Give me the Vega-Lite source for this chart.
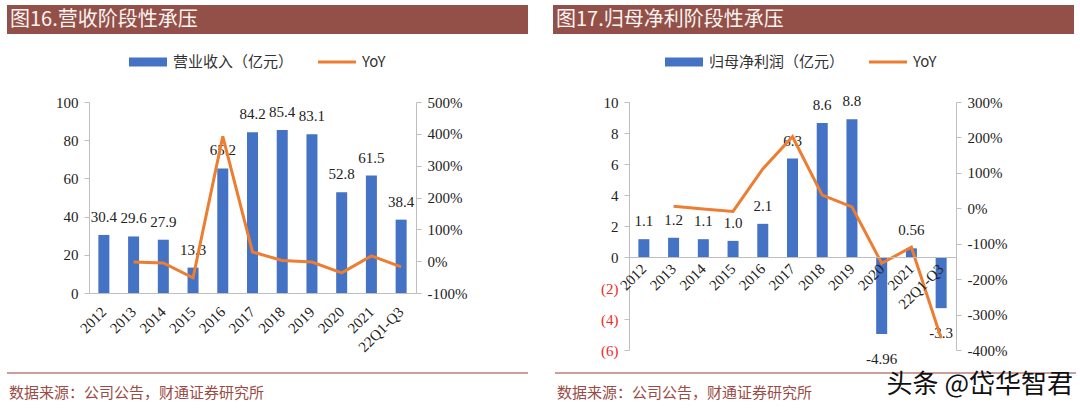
{
  "$schema": "https://vega.github.io/schema/vega-lite/v6.json",
  "padding": {"left": 6, "top": 5, "right": 0, "bottom": 0},
  "background": "white",
  "config": {"view": {"stroke": null}, "font": "Noto Sans CJK SC"},
  "datasets": {
    "rev": [
      {"year": "2012", "rev": 30.4, "yoy": null},
      {"year": "2013", "rev": 29.6, "yoy": -2.6},
      {"year": "2014", "rev": 27.9, "yoy": -5.7},
      {"year": "2015", "rev": 13.3, "yoy": -52.3},
      {"year": "2016", "rev": 65.2, "yoy": 392},
      {"year": "2017", "rev": 84.2, "yoy": 29},
      {"year": "2018", "rev": 85.4, "yoy": 2},
      {"year": "2019", "rev": 83.1, "yoy": -2.7},
      {"year": "2020", "rev": 52.8, "yoy": -36.5},
      {"year": "2021", "rev": 61.5, "yoy": 16.5},
      {"year": "22Q1-Q3", "rev": 38.4, "yoy": -18}
    ],
    "profit": [
      {"year": "2012", "profit": 1.15, "label": "1.1", "yoy": null},
      {"year": "2013", "profit": 1.24, "label": "1.2", "yoy": 6},
      {"year": "2014", "profit": 1.15, "label": "1.1", "yoy": -2},
      {"year": "2015", "profit": 1.04, "label": "1.0", "yoy": -9},
      {"year": "2016", "profit": 2.14, "label": "2.1", "yoy": 111},
      {"year": "2017", "profit": 6.35, "label": "6.3", "yoy": 202},
      {"year": "2018", "profit": 8.64, "label": "8.6", "yoy": 37},
      {"year": "2019", "profit": 8.88, "label": "8.8", "yoy": 4},
      {"year": "2020", "profit": -4.96, "label": "-4.96", "yoy": -155},
      {"year": "2021", "profit": 0.56, "label": "0.56", "yoy": -110},
      {"year": "22Q1-Q3", "profit": -3.3, "label": "-3.3", "yoy": -367}
    ]
  },
  "spacing": 5,
  "resolve": {"scale": {"color": "independent"}, "legend": {"color": "independent"}},
  "vconcat": [
    {
      "spacing": 25,
      "hconcat": [
        {
          "width": 521, "height": 29,
          "view": {"fill": "#935049", "stroke": null},
          "data": {"values": [{"t": "图16.营收阶段性承压"}]},
          "mark": {"type": "text", "align": "left", "baseline": "middle", "color": "#fbf4f1", "fontSize": 20, "dx": 3},
          "encoding": {
            "x": {"datum": 0, "type": "quantitative", "scale": {"domain": [0, 1]}, "axis": null},
            "text": {"field": "t"}
          }
        },
        {
          "width": 521, "height": 29,
          "view": {"fill": "#935049", "stroke": null},
          "data": {"values": [{"t": "图17.归母净利阶段性承压"}]},
          "mark": {"type": "text", "align": "left", "baseline": "middle", "color": "#fbf4f1", "fontSize": 20, "dx": 3},
          "encoding": {
            "x": {"datum": 0, "type": "quantitative", "scale": {"domain": [0, 1]}, "axis": null},
            "text": {"field": "t"}
          }
        }
      ]
    },
    {
      "spacing": 0,
      "resolve": {"scale": {"color": "independent"}, "legend": {"color": "independent"}},
      "hconcat": [
        {
          "width": 1, "height": 1,
          "data": {"values": []},
          "mark": {"type": "point", "opacity": 0},
          "encoding": {}
        },
        {
          "width": 327, "height": 191,
          "data": {"name": "rev"},
          "encoding": {
            "x": {"field": "year", "type": "ordinal", "sort": null,
              "scale": {"paddingInner": 0.63, "paddingOuter": 0.315},
              "axis": {"title": null, "labelAngle": -45, "labelAlign": "right", "labelBaseline": "middle", "labelFont": "Liberation Serif", "labelFontSize": 15, "labelColor": "#222", "ticks": false, "domainColor": "#bfbfbf", "labelPadding": 16, "labelOverlap": false}}
          },
          "layer": [
            {
              "encoding": {
                "y": {"field": "rev", "type": "quantitative", "scale": {"domain": [0, 100]},
                  "axis": {"orient": "left", "title": null, "values": [0, 20, 40, 60, 80, 100], "labelOverlap": false, "grid": false, "domainColor": "#bfbfbf", "tickColor": "#bfbfbf", "tickSize": 5, "labelFont": "Liberation Serif", "labelFontSize": 15, "labelColor": "#222", "labelPadding": 6, "minExtent": 81}}
              },
              "layer": [
                {
                  "mark": {"type": "bar"},
                  "encoding": {
                    "color": {"datum": "营业收入（亿元）", "type": "nominal",
                      "scale": {"domain": ["营业收入（亿元）", "YoY"], "range": ["#4472C4", "#ED7D31"]},
                      "legend": {"orient": "none", "legendX": 36, "legendY": -63, "direction": "horizontal", "title": null, "padding": 4, "symbolSize": 1444, "labelFont": "Noto Sans CJK SC", "labelFontSize": 15, "labelColor": "#333", "columnPadding": 24, "labelOffset": 6,
                        "encode": {"symbols": {"update": {
                          "shape": {"signal": "datum.value === 'YoY' ? 'M-1,-0.08H1V0.08H-1Z' : 'M-1,-0.24H1V0.24H-1Z'"},
                          "fill": {"signal": "datum.value === 'YoY' ? '#ED7D31' : '#4472C4'"},
                          "stroke": {"value": "transparent"}, "strokeWidth": {"value": 0}, "opacity": {"value": 1}, "fillOpacity": {"value": 1}}}}}}
                  }
                },
                {
                  "mark": {"type": "text", "baseline": "alphabetic", "dy": -13, "font": "Liberation Serif", "fontSize": 15, "color": "#222"},
                  "encoding": {
                    "text": {"field": "rev", "type": "quantitative", "format": ".1f"}
                  }
                }
              ]
            },
            {
              "mark": {"type": "line", "strokeWidth": 3},
              "encoding": {
                "y": {"field": "yoy", "type": "quantitative", "scale": {"domain": [-100, 500]},
                  "axis": {"orient": "right", "title": null, "values": [-100, 0, 100, 200, 300, 400, 500], "labelOverlap": false, "labelExpr": "datum.value + '%'", "grid": false, "domainColor": "#bfbfbf", "tickColor": "#bfbfbf", "tickSize": 5, "labelFont": "Liberation Serif", "labelFontSize": 15, "labelColor": "#222", "labelPadding": 6, "minExtent": 137}},
                "color": {"datum": "YoY", "type": "nominal"}
              }
            }
          ],
          "resolve": {"scale": {"y": "independent"}}
        },
        {
          "width": 327, "height": 248,
          "data": {"name": "profit"},
          "encoding": {
            "x": {"field": "year", "type": "ordinal", "sort": null,
              "scale": {"paddingInner": 0.63, "paddingOuter": 0.315},
              "axis": {"title": null, "offset": -93, "zindex": 1, "labelAngle": -45, "labelAlign": "right", "labelBaseline": "middle", "labelFont": "Liberation Serif", "labelFontSize": 15, "labelColor": "#222", "ticks": false, "domainColor": "#bfbfbf", "labelPadding": 9, "labelOverlap": false}}
          },
          "layer": [
            {
              "encoding": {
                "y": {"field": "profit", "type": "quantitative", "scale": {"domain": [-6, 10]},
                  "axis": {"orient": "left", "title": null, "values": [-6, -4, -2, 0, 2, 4, 6, 8, 10], "labelOverlap": false, "labelExpr": "datum.value < 0 ? '(' + abs(datum.value) + ')' : datum.value", "labelColor": {"condition": {"test": "datum.value < 0", "value": "#ee2a24"}, "value": "#222"}, "grid": false, "domainColor": "#bfbfbf", "tickColor": "#bfbfbf", "tickSize": 5, "labelFont": "Liberation Serif", "labelFontSize": 15, "labelPadding": 6, "minExtent": 76}}
              },
              "layer": [
                {
                  "mark": {"type": "bar"},
                  "encoding": {
                    "color": {"datum": "归母净利润（亿元）", "type": "nominal",
                      "scale": {"domain": ["归母净利润（亿元）", "YoY"], "range": ["#4472C4", "#ED7D31"]},
                      "legend": {"orient": "none", "legendX": 32, "legendY": -63, "direction": "horizontal", "title": null, "padding": 4, "symbolSize": 1444, "labelFont": "Noto Sans CJK SC", "labelFontSize": 15, "labelColor": "#333", "columnPadding": 24, "labelOffset": 6,
                        "encode": {"symbols": {"update": {
                          "shape": {"signal": "datum.value === 'YoY' ? 'M-1,-0.08H1V0.08H-1Z' : 'M-1,-0.24H1V0.24H-1Z'"},
                          "fill": {"signal": "datum.value === 'YoY' ? '#ED7D31' : '#4472C4'"},
                          "stroke": {"value": "transparent"}, "strokeWidth": {"value": 0}, "opacity": {"value": 1}, "fillOpacity": {"value": 1}}}}}}
                  }
                },
                {
                  "transform": [{"filter": "datum.profit >= 0"}],
                  "mark": {"type": "text", "baseline": "alphabetic", "dy": -13, "font": "Liberation Serif", "fontSize": 15, "color": "#222"},
                  "encoding": {
                    "text": {"field": "label"}
                  }
                },
                {
                  "transform": [{"filter": "datum.profit < 0"}],
                  "mark": {"type": "text", "baseline": "top", "dy": 18, "font": "Liberation Serif", "fontSize": 15, "color": "#222"},
                  "encoding": {
                    "text": {"field": "label"}
                  }
                }
              ]
            },
            {
              "mark": {"type": "line", "strokeWidth": 3},
              "encoding": {
                "y": {"field": "yoy", "type": "quantitative", "scale": {"domain": [-400, 300]},
                  "axis": {"orient": "right", "title": null, "values": [-400, -300, -200, -100, 0, 100, 200, 300], "labelOverlap": false, "labelExpr": "datum.value + '%'", "grid": false, "domainColor": "#bfbfbf", "tickColor": "#bfbfbf", "tickSize": 5, "labelFont": "Liberation Serif", "labelFontSize": 15, "labelColor": "#222", "labelPadding": 6}},
                "color": {"datum": "YoY", "type": "nominal"}
              }
            }
          ],
          "resolve": {"scale": {"y": "independent"}}
        }
      ]
    },
    {
      "spacing": 25,
      "hconcat": [
        {
          "width": 521, "height": 39,
          "data": {"values": [{"t": "数据来源：公司公告，财通证券研究所"}]},
          "layer": [
            {
              "mark": {"type": "rule", "color": "#b9807a", "strokeWidth": 1.5},
              "encoding": {"y": {"datum": 1, "type": "quantitative", "scale": {"domain": [0, 1]}, "axis": null}}
            },
            {
              "mark": {"type": "text", "align": "left", "baseline": "middle", "fontSize": 15, "color": "#9a4b44", "dx": 2},
              "encoding": {
                "x": {"datum": 0, "type": "quantitative", "scale": {"domain": [0, 1]}, "axis": null},
                "y": {"datum": 0.5, "type": "quantitative", "scale": {"domain": [0, 1]}, "axis": null},
                "text": {"field": "t"}
              }
            }
          ]
        },
        {
          "width": 521, "height": 39,
          "data": {"values": [{"t": "数据来源：公司公告，财通证券研究所", "w": "头条 @岱华智君"}]},
          "layer": [
            {
              "mark": {"type": "rule", "color": "#b9807a", "strokeWidth": 1.5},
              "encoding": {"y": {"datum": 1, "type": "quantitative", "scale": {"domain": [0, 1]}, "axis": null}}
            },
            {
              "mark": {"type": "text", "align": "left", "baseline": "middle", "fontSize": 15, "color": "#9a4b44", "dx": 2},
              "encoding": {
                "x": {"datum": 0, "type": "quantitative", "scale": {"domain": [0, 1]}, "axis": null},
                "y": {"datum": 0.5, "type": "quantitative", "scale": {"domain": [0, 1]}, "axis": null},
                "text": {"field": "t"}
              }
            },
            {
              "mark": {"type": "text", "align": "right", "baseline": "middle", "fontSize": 26, "color": "#111", "dx": -3},
              "encoding": {
                "x": {"datum": 1, "type": "quantitative", "scale": {"domain": [0, 1]}, "axis": null},
                "y": {"datum": 0.69, "type": "quantitative", "scale": {"domain": [0, 1]}, "axis": null},
                "text": {"field": "w"}
              }
            }
          ]
        }
      ]
    }
  ]
}
